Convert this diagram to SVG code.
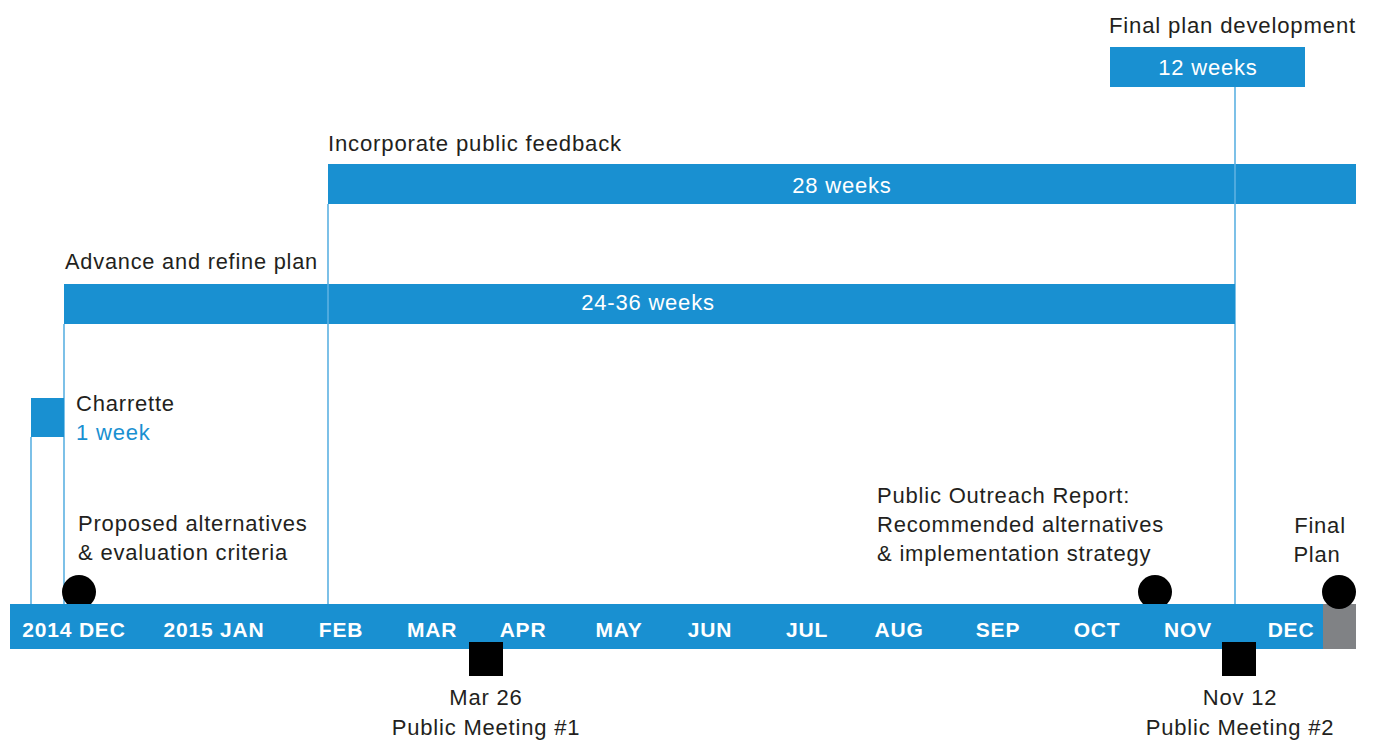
<svg xmlns="http://www.w3.org/2000/svg" width="1375" height="744" viewBox="0 0 1375 744">
<style>
.bar{fill:#1990d1}
.vl{stroke:#5cb1e2;stroke-width:1.6;fill:none}
.t{font-family:"Liberation Sans",Arial,sans-serif;font-size:22px;letter-spacing:0.8px;fill:#231f20}
.w{font-family:"Liberation Sans",Arial,sans-serif;font-size:22px;letter-spacing:0.8px;fill:#ffffff}
.m{font-family:"Liberation Sans",Arial,sans-serif;font-size:21px;letter-spacing:0.8px;font-weight:bold;fill:#ffffff;text-anchor:middle}
.c{text-anchor:middle}
</style>
<rect width="1375" height="744" fill="#ffffff"/>
<g id="connectors">
<line class="vl" x1="31" y1="437" x2="31" y2="604"/>
<line class="vl" x1="64" y1="324" x2="64" y2="604"/>
<line class="vl" x1="328" y1="204" x2="328" y2="604"/>
<line class="vl" x1="1235" y1="87" x2="1235" y2="604"/>
</g>
<g id="final-plan-development">
<rect class="bar" x="1110" y="47" width="195" height="40"/>
<text class="t" x="1109" y="33" textLength="247" lengthAdjust="spacingAndGlyphs">Final plan development</text>
<text class="w c" x="1208" y="75">12 weeks</text>
</g>
<g id="incorporate-feedback">
<rect class="bar" x="328" y="164" width="1028" height="40"/>
<text class="t" x="328" y="151" textLength="294" lengthAdjust="spacingAndGlyphs">Incorporate public feedback</text>
<text class="w c" x="842" y="193">28 weeks</text>
</g>
<g id="advance-refine">
<rect class="bar" x="64" y="284" width="1171" height="40"/>
<text class="t" x="65" y="269" textLength="253" lengthAdjust="spacingAndGlyphs">Advance and refine plan</text>
<text class="w c" x="648" y="310">24-36 weeks</text>
</g>
<line class="vl" x1="328" y1="284" x2="328" y2="324"/>
<line class="vl" x1="1235" y1="164" x2="1235" y2="204"/>
<g id="charrette">
<rect class="bar" x="31" y="398" width="33" height="39"/>
<text class="t" x="76" y="411">Charrette</text>
<text class="t" x="76" y="440" style="fill:#1990d1">1 week</text>
</g>
<g id="proposed-alternatives">
<text class="t" x="78" y="531">Proposed alternatives</text>
<text class="t" x="78" y="560">&amp; evaluation criteria</text>
<circle cx="79" cy="592" r="17" fill="#000000"/>
</g>
<g id="outreach-report">
<text class="t" x="877" y="503">Public Outreach Report:</text>
<text class="t" x="877" y="532">Recommended alternatives</text>
<text class="t" x="877" y="561">&amp; implementation strategy</text>
<circle cx="1155" cy="592" r="17" fill="#000000"/>
</g>
<g id="timeline">
<rect class="bar" x="10" y="604" width="1313" height="45"/>
<rect x="1323" y="604" width="33" height="45" fill="#808285"/>
<text class="m" x="74" y="637">2014 DEC</text>
<text class="m" x="214" y="637">2015 JAN</text>
<text class="m" x="341" y="637">FEB</text>
<text class="m" x="432" y="637">MAR</text>
<text class="m" x="523" y="637">APR</text>
<text class="m" x="619" y="637">MAY</text>
<text class="m" x="710" y="637">JUN</text>
<text class="m" x="807" y="637">JUL</text>
<text class="m" x="899" y="637">AUG</text>
<text class="m" x="998" y="637">SEP</text>
<text class="m" x="1097" y="637">OCT</text>
<text class="m" x="1188" y="637">NOV</text>
<text class="m" x="1291" y="637">DEC</text>
</g>
<g id="final-plan">
<text class="t c" x="1320" y="533">Final</text>
<text class="t c" x="1317" y="562">Plan</text>
<circle cx="1339" cy="592" r="17" fill="#000000"/>
</g>
<g id="public-meeting-1">
<rect x="469" y="642" width="34" height="34" fill="#000000"/>
<text class="t c" x="486" y="705">Mar 26</text>
<text class="t c" x="486" y="735">Public Meeting #1</text>
</g>
<g id="public-meeting-2">
<rect x="1222" y="642" width="34" height="34" fill="#000000"/>
<text class="t c" x="1240" y="705">Nov 12</text>
<text class="t c" x="1240" y="735">Public Meeting #2</text>
</g>
</svg>
